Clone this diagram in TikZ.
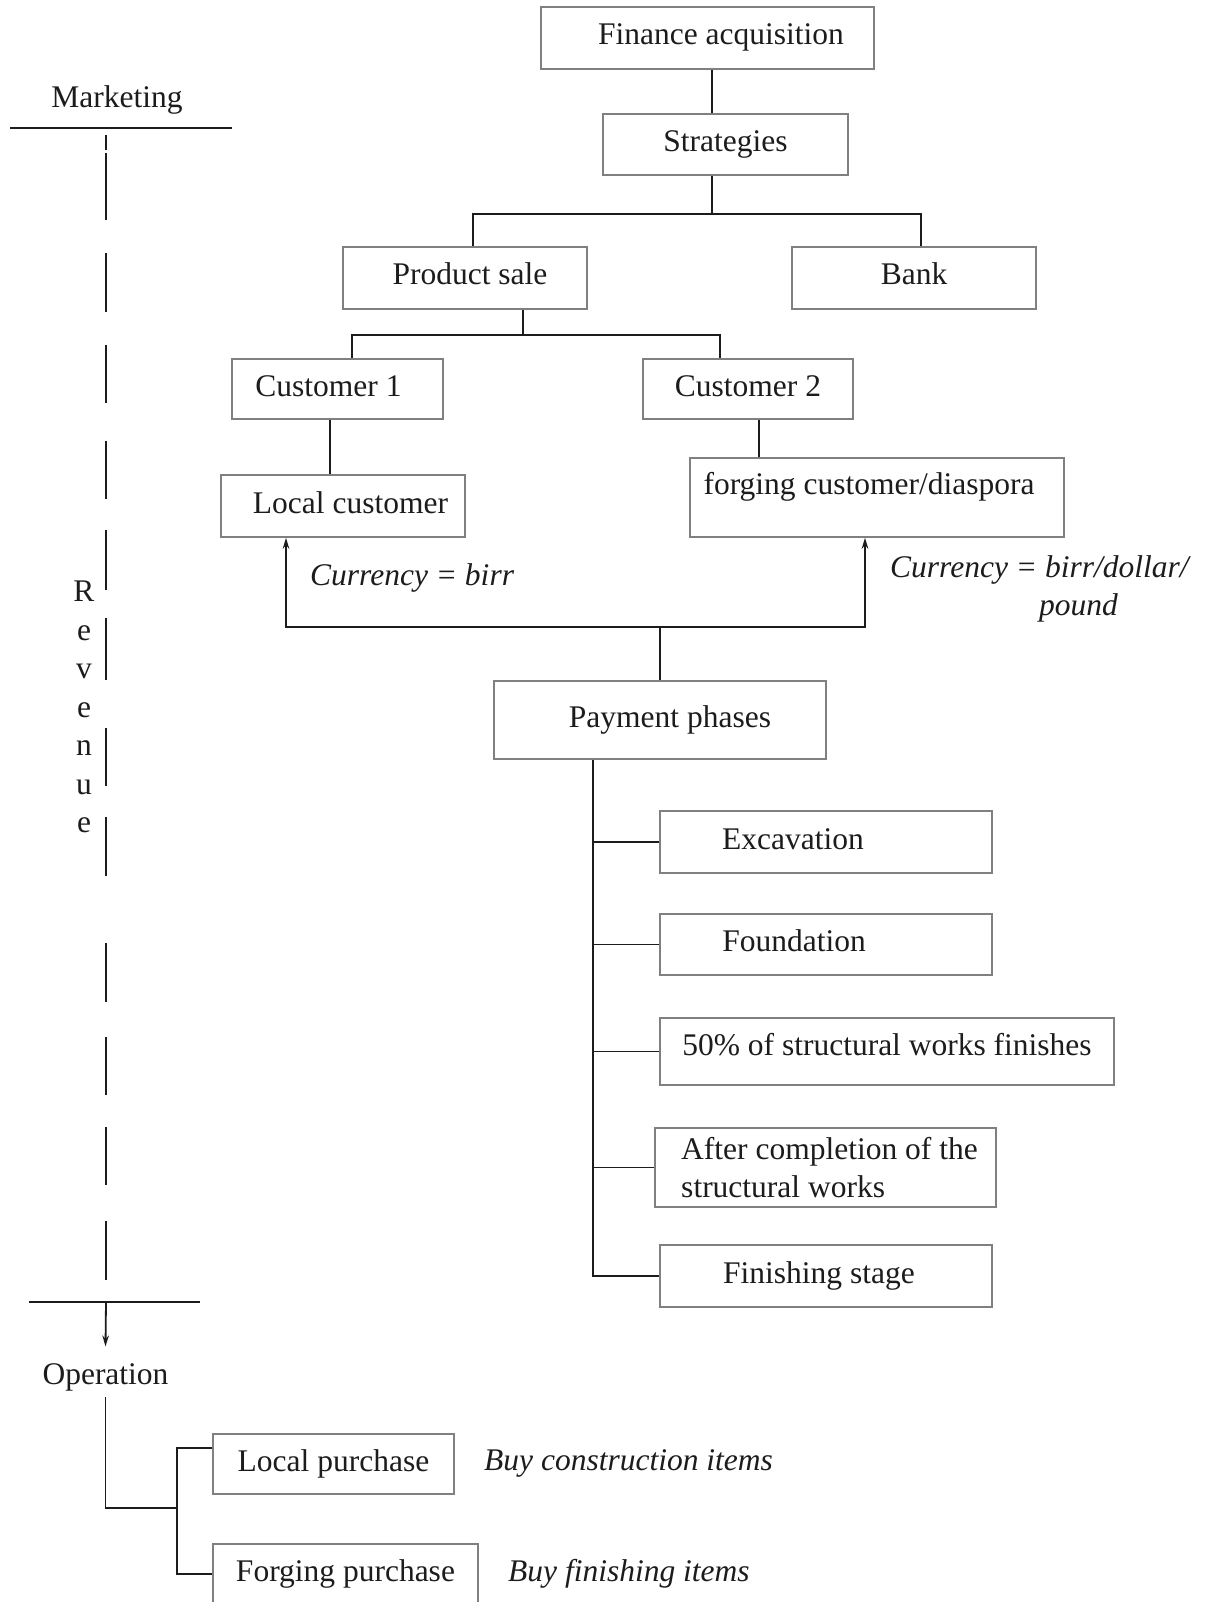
\documentclass[tikz,border=0pt]{standalone}
\usepackage{fontspec}
\setmainfont{Liberation Serif}
\usetikzlibrary{arrows.meta}
\definecolor{boxline}{RGB}{128,128,128}
\definecolor{ink}{RGB}{28,28,28}
\begin{document}
\begin{tikzpicture}[x=1pt,y=-1pt,
  font=\fontsize{31.5}{38}\selectfont, text=ink,
  box/.style={draw=boxline, line width=1.6pt, inner sep=0pt, text height=21pt, text depth=7pt},
  conn/.style={draw=ink, line width=1.8pt},
  tip/.style={conn, -{Stealth[length=11pt,width=6.5pt]}},
  lbl/.style={inner sep=0pt},
  note/.style={inner sep=0pt, font=\fontsize{31.5}{38}\selectfont\itshape}]

\fill[white] (0,0) rectangle (1207,1602);
\useasboundingbox (0,0) rectangle (1207,1602);

% ---------- finance tree ----------
\node[box, minimum width=333pt, minimum height=62pt] (fin) at (707.5,38) {\hspace*{27pt}Finance acquisition};
\node[box, minimum width=245pt, minimum height=61pt] (strat) at (725.5,144.5) {Strategies};
\node[box, minimum width=244pt, minimum height=62pt] (prod) at (465,278) {\hspace*{10pt}Product sale};
\node[box, minimum width=244pt, minimum height=62pt] (bank) at (914,278) {Bank};
\node[box, minimum width=211pt, minimum height=60pt] (cust1) at (337.5,389) {Customer 1\hspace*{18pt}};
\node[box, minimum width=210pt, minimum height=60pt] (cust2) at (748,389) {Customer 2};
\node[box, minimum width=244pt, minimum height=62pt] (local) at (343,506) {\hspace*{15pt}Local customer};
\node[box, minimum width=374pt, minimum height=79pt, text depth=27pt] (forg) at (877,497.5) {forging customer/diaspora\hspace*{16pt}};
\node[box, minimum width=332pt, minimum height=78pt] (pay) at (660,720) {\hspace*{20pt}Payment phases};

% ---------- payment phases ----------
\node[box, minimum width=332pt, minimum height=62pt] (exc) at (826,842) {Excavation\hspace*{66pt}};
\node[box, minimum width=332pt, minimum height=61pt] (fnd) at (826,944.5) {Foundation\hspace*{64pt}};
\node[box, minimum width=454pt, minimum height=67pt, text depth=13pt] (fifty) at (887,1051.5) {50\% of structural works finishes};
\node[box, minimum width=341pt, minimum height=79pt, text height={}, text depth={}, align=left] (after) at (825.5,1167.5) {\hspace*{8pt}After completion of the\\\hspace*{8pt}structural works};
\node[box, minimum width=332pt, minimum height=62pt] (finish) at (826,1276) {Finishing stage\hspace*{14pt}};

% ---------- operation ----------
\node[box, minimum width=241pt, minimum height=60pt] (lpur) at (333.5,1464) {Local purchase};
\node[box, minimum width=265pt, minimum height=60pt] (fpur) at (345.5,1574) {Forging purchase};

% ---------- side labels ----------
\node[lbl, anchor=base] (mkt) at (117,108) {Marketing};
\node[lbl, anchor=base] (oper) at (105.5,1384) {Operation};
\node[lbl, anchor=north, align=center, font=\fontsize{31.5}{38.5}\selectfont] (rev) at (84,581) {R\\e\\v\\e\\n\\u\\e};

% ---------- italic notes ----------
\node[note, anchor=base west] (cur1) at (310,585) {Currency = birr};
\node[note, anchor=north west, align=left] (cur2) at (890,555) {Currency = birr/dollar/\\\hspace*{149pt}pound};
\node[note, anchor=base west] (buy1) at (484,1470) {Buy construction items};
\node[note, anchor=base west] (buy2) at (508,1581) {Buy finishing items};

% ---------- connectors ----------
\coordinate (sj) at (712,214);
\draw[conn] (fin.south -| sj) -- (strat.north -| sj);
\draw[conn] (strat.south -| sj) -- (sj);
\draw[conn] ([xshift=8pt]prod.north) |- (sj) -| ([xshift=7pt]bank.north);

\coordinate (pj) at (523,335);
\draw[conn] (prod.south -| pj) -- (pj);
\draw[conn] ([xshift=14.5pt]cust1.north) |- (pj) -| ([xshift=-28pt]cust2.north);

\draw[conn] ([xshift=-7.5pt]cust1.south) -- ([xshift=-7.5pt]cust1.south |- local.north);
\draw[conn] ([xshift=11pt]cust2.south) -- ([xshift=11pt]cust2.south |- forg.north);

\coordinate (payj) at (660,627);
\draw[conn] (pay.north) -- (payj);
\draw[tip] (payj) -| ([xshift=-57pt]local.south);
\draw[tip] (payj) -| ([xshift=-12pt]forg.south);

\coordinate (sp) at (593,759);
\draw[conn] (pay.south -| sp) |- (finish.west);
\foreach \n in {exc,fnd,fifty,after} \draw[conn] (\n.west) -- (\n.west -| sp);

% marketing / revenue / operation axis
\coordinate (mkl) at (10,128);
\coordinate (mkr) at (232,128);
\draw[conn] (mkl) -- (mkr);
\coordinate (rtop) at (106,135);
\coordinate (rbot) at (106,1280);
\draw[conn, dash pattern=on 15pt off 3pt on 67pt off 33pt on 59pt off 33pt on 58pt off 38pt on 58pt off 31pt on 60pt off 28pt on 62pt off 48pt on 58pt off 31pt on 59pt off 67pt on 59pt off 35pt on 58pt off 32pt on 58pt off 36pt on 59pt off 100pt] (rtop) -- (rbot);
\coordinate (opl) at (29,1302);
\coordinate (opr) at (200,1302);
\coordinate (opj) at (106,1302);
\draw[conn] (opl) -- (opr);
\draw[tip] (opj) -- ([yshift=16.5pt]oper.north);

\coordinate (oj) at (177,1508);
\draw[conn] ([yshift=-6pt]oper.south) |- (oj);
\draw[conn] ([yshift=16pt]lpur.west) -| (oj) |- (fpur.west);
\end{tikzpicture}
\end{document}
